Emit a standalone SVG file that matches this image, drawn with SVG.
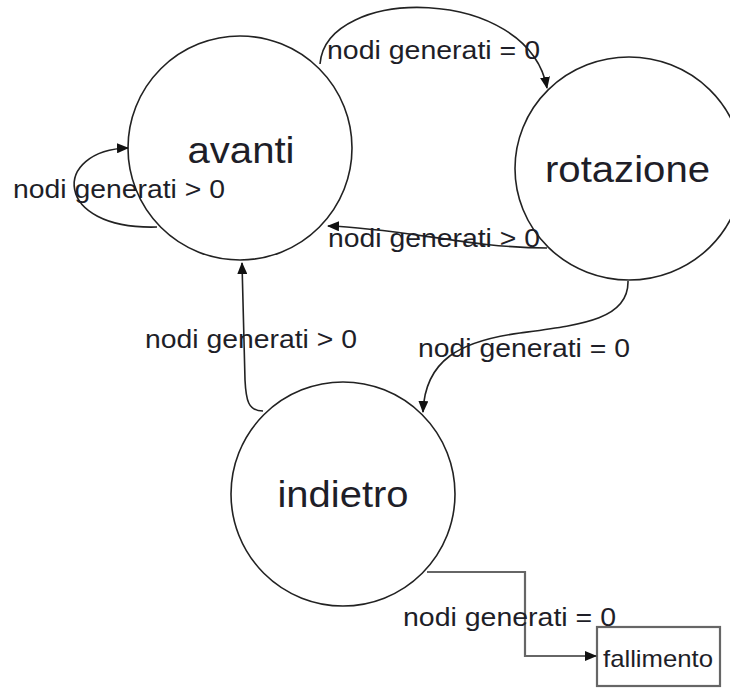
<svg xmlns="http://www.w3.org/2000/svg" width="730" height="688" viewBox="0 0 730 688">
  <style>
    .state { fill: #ffffff; stroke: #222222; stroke-width: 1.6; }
    .state-label { font-family: "Liberation Sans", Arial, sans-serif; font-size: 37px; fill: #1e1e28; text-anchor: middle; }
    .edge { fill: none; stroke: #222222; stroke-width: 1.6; }
    .edge-ortho { fill: none; stroke: #666666; stroke-width: 2.2; }
    .edge-label { font-family: "Liberation Sans", Arial, sans-serif; font-size: 26px; fill: #1e1e28; }
    .final { fill: #ffffff; stroke: #666666; stroke-width: 2.2; }
    .final-label { font-family: "Liberation Sans", Arial, sans-serif; font-size: 24px; fill: #1e1e28; }
  </style>
  <defs>
    <marker id="arrow" viewBox="0 0 12 10" refX="11" refY="5" markerWidth="12" markerHeight="10" markerUnits="userSpaceOnUse" orient="auto">
      <path d="M0,0 L12,5 L0,10 Z" fill="#111111"/>
    </marker>
  </defs>

  <rect width="730" height="688" fill="#ffffff"/>

  <!-- state nodes -->
  <g id="avanti">
    <circle class="state" cx="240" cy="148" r="112"/>
    <text class="state-label" x="241" y="163" textLength="107" lengthAdjust="spacingAndGlyphs">avanti</text>
  </g>
  <g id="rotazione">
    <ellipse class="state" cx="629" cy="168.5" rx="114" ry="111.5"/>
    <text class="state-label" x="627.5" y="182" textLength="165" lengthAdjust="spacingAndGlyphs">rotazione</text>
  </g>
  <g id="indietro">
    <circle class="state" cx="343" cy="494" r="112"/>
    <text class="state-label" x="343" y="507" textLength="131" lengthAdjust="spacingAndGlyphs">indietro</text>
  </g>
  <g id="fallimento">
    <rect class="final" x="597" y="627" width="123" height="59"/>
    <text class="final-label" x="603" y="667" textLength="110" lengthAdjust="spacingAndGlyphs">fallimento</text>
  </g>

  <!-- transitions -->
  <g id="connectors">
    <!-- avanti -> rotazione -->
    <path class="edge" d="M320,64 C326,-15 528,-15 547,88" marker-end="url(#arrow)"/>
    <!-- rotazione -> avanti -->
    <path class="edge" d="M547,248 C470,248 400,228 328,226" marker-end="url(#arrow)"/>
    <!-- avanti self loop -->
    <path class="edge" d="M157,227 C52,230 52,150 128,148" marker-end="url(#arrow)"/>
    <!-- indietro -> avanti -->
    <path class="edge" d="M263,411 C248,411 246,400 245,380 L242,263" marker-end="url(#arrow)"/>
    <!-- rotazione -> indietro -->
    <path class="edge" d="M628,281 C629,320 580,325 520,333 C460,341 425,360 423,412" marker-end="url(#arrow)"/>
    <!-- indietro -> fallimento -->
    <path class="edge-ortho" d="M427,572 L525,572 L525,656 L596,656" marker-end="url(#arrow)"/>

    <text class="edge-label" x="327" y="59" textLength="213" lengthAdjust="spacingAndGlyphs">nodi generati = 0</text>
    <text class="edge-label" x="328" y="247" textLength="212" lengthAdjust="spacingAndGlyphs">nodi generati &gt; 0</text>
    <text class="edge-label" x="13" y="198" textLength="212" lengthAdjust="spacingAndGlyphs">nodi generati &gt; 0</text>
    <text class="edge-label" x="145" y="348" textLength="212" lengthAdjust="spacingAndGlyphs">nodi generati &gt; 0</text>
    <text class="edge-label" x="418" y="357" textLength="212" lengthAdjust="spacingAndGlyphs">nodi generati = 0</text>
    <text class="edge-label" x="403" y="626" textLength="213" lengthAdjust="spacingAndGlyphs">nodi generati = 0</text>
  </g>
</svg>
